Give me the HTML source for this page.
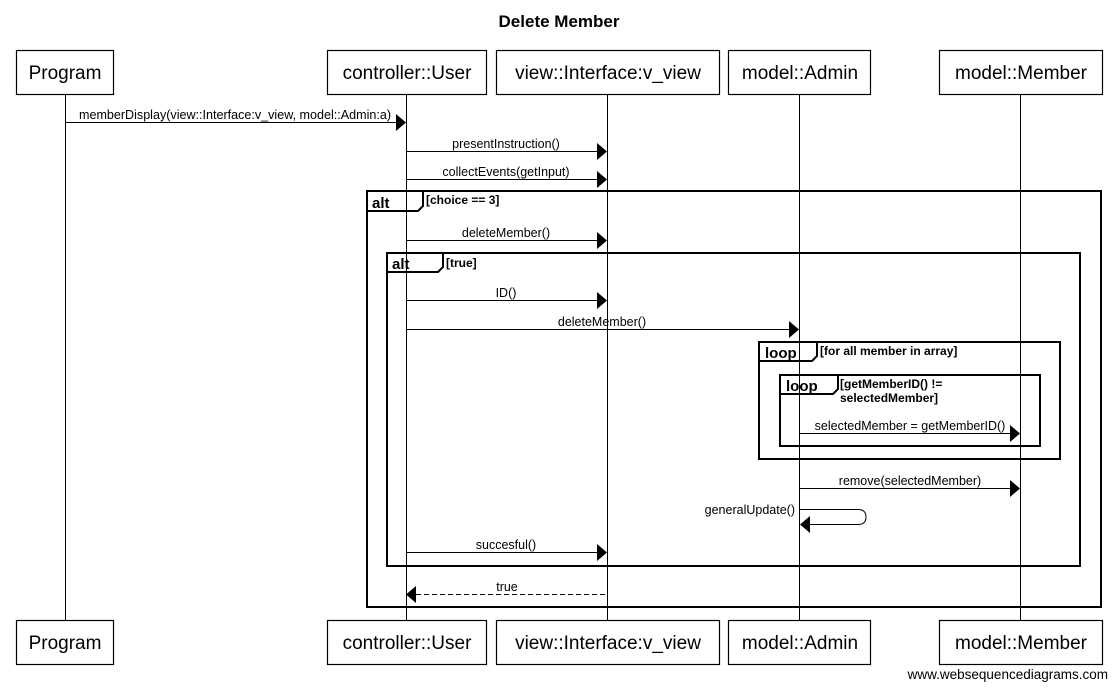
<!DOCTYPE html>
<html><head><meta charset="utf-8"><style>
html,body{margin:0;padding:0;background:#fff;}
svg{display:block;}
text{font-family:"Liberation Sans",Arial,sans-serif;fill:#000;}
.b{font-size:19px;}
.m{font-size:12.5px;}
.f{font-size:12px;font-weight:bold;}
.t{font-size:15px;font-weight:bold;}
</style></head><body>
<svg width="1117" height="689" viewBox="0 0 1117 689" xmlns="http://www.w3.org/2000/svg">
<text x="559" y="27" text-anchor="middle" style="font-size:17px;font-weight:bold">Delete Member</text>
<g stroke="#000" stroke-width="1" fill="none">
<line x1="65.5" y1="95" x2="65.5" y2="620"/>
<line x1="406.5" y1="95" x2="406.5" y2="620"/>
<line x1="607.5" y1="95" x2="607.5" y2="620"/>
<line x1="799.5" y1="95" x2="799.5" y2="620"/>
<line x1="1020.5" y1="95" x2="1020.5" y2="620"/>
</g>
<g stroke="#000" stroke-width="1.2" fill="#fff">
<rect x="16.5" y="50.5" width="97" height="44"/>
<rect x="327.5" y="50.5" width="159" height="44"/>
<rect x="496.5" y="50.5" width="223" height="44"/>
<rect x="728.5" y="50.5" width="142" height="44"/>
<rect x="939.5" y="50.5" width="163" height="44"/>
<rect x="16.5" y="620.5" width="97" height="44"/>
<rect x="327.5" y="620.5" width="159" height="44"/>
<rect x="496.5" y="620.5" width="223" height="44"/>
<rect x="728.5" y="620.5" width="142" height="44"/>
<rect x="939.5" y="620.5" width="163" height="44"/>
</g>
<g class="b" text-anchor="middle">
<text x="65" y="79">Program</text><text x="407" y="79">controller::User</text><text x="608" y="79">view::Interface:v_view</text><text x="800" y="79">model::Admin</text><text x="1021" y="79">model::Member</text>
<text x="65" y="649">Program</text><text x="407" y="649">controller::User</text><text x="608" y="649">view::Interface:v_view</text><text x="800" y="649">model::Admin</text><text x="1021" y="649">model::Member</text>
</g>
<g stroke="#000" stroke-width="2" fill="none">
<rect x="367" y="191" width="734" height="416"/>
<path d="M367 211 H418 L423 206 V191"/>
<rect x="387" y="253" width="693" height="313"/>
<path d="M387 272 H438 L443 267 V253"/>
<rect x="759" y="342" width="301" height="117"/>
<path d="M759 361 H812 L817 356 V342"/>
<rect x="780" y="375" width="260" height="71"/>
<path d="M780 394 H833 L838 389 V375"/>
</g>
<g class="t"><text x="372" y="208">alt</text><text x="392" y="269">alt</text><text x="765" y="358">loop</text><text x="786" y="391">loop</text></g>
<g class="f"><text x="426" y="204">[choice == 3]</text><text x="446" y="267">[true]</text><text x="820" y="355">[for all member in array]</text><text x="840" y="388">[getMemberID() !=</text><text x="840" y="402">selectedMember]</text></g>
<g stroke="#000" stroke-width="1" fill="none">
<line x1="65" y1="122.5" x2="397" y2="122.5"/>
<line x1="406" y1="151.5" x2="598" y2="151.5"/>
<line x1="406" y1="179.5" x2="598" y2="179.5"/>
<line x1="406" y1="240.5" x2="598" y2="240.5"/>
<line x1="406" y1="300.5" x2="598" y2="300.5"/>
<line x1="406" y1="329.5" x2="790" y2="329.5"/>
<line x1="799" y1="433.5" x2="1011" y2="433.5"/>
<line x1="799" y1="488.5" x2="1011" y2="488.5"/>
<path d="M799 509.5 H858 Q866 509.5 866 517 Q866 524.5 858 524.5 H809"/>
<line x1="406" y1="552.5" x2="598" y2="552.5"/>
<line x1="416" y1="594.5" x2="607" y2="594.5" stroke-dasharray="5,3"/>
</g>
<g fill="#000">
<path d="M396 114 L406 122.5 L396 131Z"/>
<path d="M597 143 L607 151.5 L597 160Z"/>
<path d="M597 171 L607 179.5 L597 188Z"/>
<path d="M597 232 L607 240.5 L597 249Z"/>
<path d="M597 292 L607 300.5 L597 309Z"/>
<path d="M789 321 L799 329.5 L789 338Z"/>
<path d="M1010 425 L1020 433.5 L1010 442Z"/>
<path d="M1010 480 L1020 488.5 L1010 497Z"/>
<path d="M810 516 L800 524.5 L810 533Z"/>
<path d="M597 544 L607 552.5 L597 561Z"/>
<path d="M416 586 L406 594.5 L416 603Z"/>
</g>
<g class="m" text-anchor="middle">
<text x="235" y="119" textLength="312" lengthAdjust="spacingAndGlyphs">memberDisplay(view::Interface:v_view, model::Admin:a)</text>
<text x="506" y="148">presentInstruction()</text>
<text x="506" y="176">collectEvents(getInput)</text>
<text x="506" y="237">deleteMember()</text>
<text x="506" y="297">ID()</text>
<text x="602" y="326">deleteMember()</text>
<text x="910" y="430">selectedMember = getMemberID()</text>
<text x="910" y="485">remove(selectedMember)</text>
<text x="506" y="549">succesful()</text>
<text x="507" y="591">true</text>
<text x="795" y="514" text-anchor="end">generalUpdate()</text>
<text x="1108" y="679" text-anchor="end" style="font-size:13.5px">www.websequencediagrams.com</text>
</g>
</svg>
</body></html>
